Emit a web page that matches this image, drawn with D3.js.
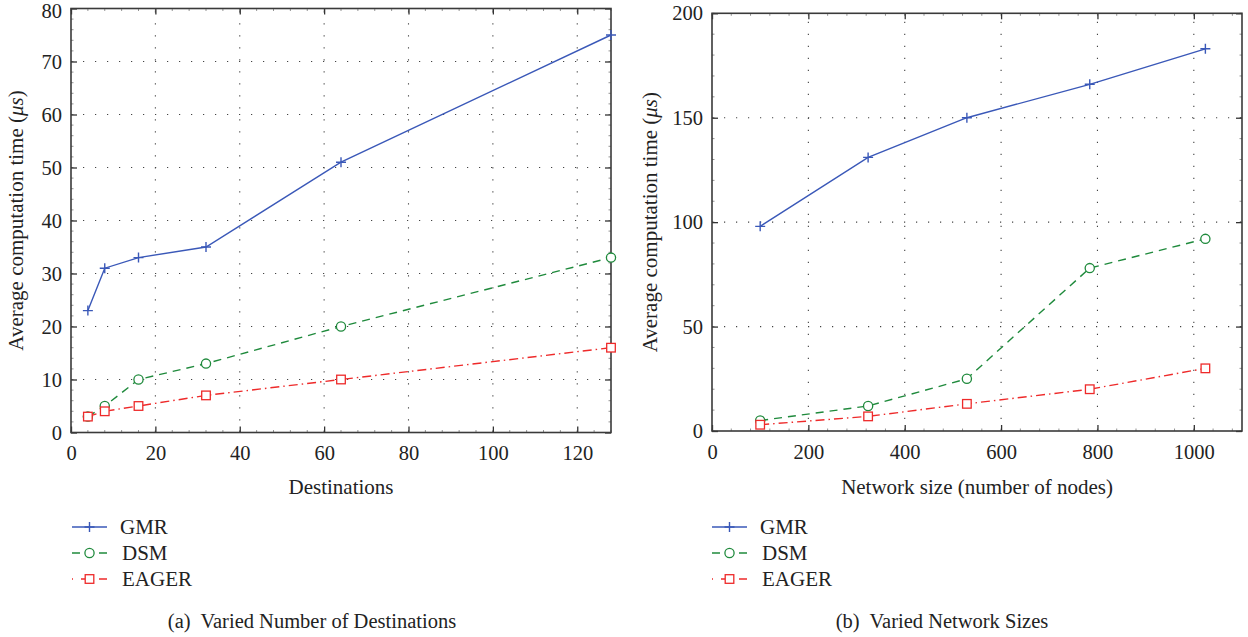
<!DOCTYPE html>
<html><head><meta charset="utf-8">
<script src="https://cdn.jsdelivr.net/npm/d3@7"></script>
<style>
body{margin:0;background:#fff;}
svg{display:block;}
text{font-family:"Liberation Serif","DejaVu Serif",serif;fill:#222;white-space:pre;}
</style></head>
<body><svg id="c" width="1248" height="637"></svg>
<script>
// ---- Data ----
const destX = [4, 8, 16, 32, 64, 128];
const destGMR = [23, 31, 33, 35, 51, 75];
const destDSM = [3, 5, 10, 13, 20, 33];
const destEAGER = [3, 4, 5, 7, 10, 16];

const netX = [100, 324, 529, 784, 1024];
const netGMR = [98, 131, 150, 166, 183];
const netDSM = [5, 12, 25, 78, 92];
const netEAGER = [3, 7, 13, 20, 30];

const seriesNames = ["GMR", "DSM", "EAGER"];
const destXTicks = [0, 20, 40, 60, 80, 100, 120];
const destYTicks = [0, 10, 20, 30, 40, 50, 60, 70, 80];
const netXTicks = [0, 200, 400, 600, 800, 1000];
const netYTicks = [0, 50, 100, 150, 200];

const yLabel = "Average computation time (";
const captions = ["(a)  Varied Number of Destinations", "(b)  Varied Network Sizes"];
const xLabels = ["Destinations", "Network size (number of nodes)"];

// ---- Styles ----
const styles = {
  GMR: {color: "#3a58b8", dash: null, marker: "plus"},
  DSM: {color: "#1f8a3c", dash: "8,6", marker: "circle"},
  EAGER: {color: "#ee2a2a", dash: "9,4,1.5,4", marker: "square"}
};

const svg = d3.select("#c");

function drawMarker(g, type, x, y, color) {
  if (type === "plus") {
    g.append("path").attr("d", `M${x-5},${y}H${x+5}M${x},${y-5}V${y+5}`)
      .attr("stroke", color).attr("stroke-width", 1.4).attr("fill", "none");
  } else if (type === "circle") {
    g.append("circle").attr("cx", x).attr("cy", y).attr("r", 4.6)
      .attr("stroke", color).attr("stroke-width", 1.3).attr("fill", "#fff");
  } else {
    g.append("rect").attr("x", x-4.3).attr("y", y-4.3).attr("width", 8.6).attr("height", 8.6)
      .attr("stroke", color).attr("stroke-width", 1.3).attr("fill", "#fff");
  }
}

function panel(opts) {
  const {left, right, top, bottom, xDomain, yDomain, xTicks, yTicks, xMinor, yMinor,
         xs, series, xLabel, yLabelX, caption, captionX, legendX} = opts;
  const x = d3.scaleLinear().domain(xDomain).range([left, right]);
  const y = d3.scaleLinear().domain(yDomain).range([bottom, top]);
  const g = svg.append("g");

  // grid
  const grid = g.append("g").attr("stroke", "#444").attr("stroke-width", 1.1)
    .attr("stroke-dasharray", "1.2,10.8");
  xTicks.forEach(t => { if (t > xDomain[0] && t < xDomain[1])
    grid.append("line").attr("x1", x(t)).attr("x2", x(t)).attr("y1", bottom).attr("y2", top); });
  yTicks.forEach(t => { if (t > yDomain[0] && t < yDomain[1])
    grid.append("line").attr("y1", y(t)).attr("y2", y(t)).attr("x1", left).attr("x2", right); });

  // minor ticks
  const mt = g.append("g").attr("stroke", "#666").attr("stroke-width", 0.7);
  d3.range(xDomain[0], xDomain[1] + 1e-9, xMinor).forEach(t => {
    mt.append("line").attr("x1", x(t)).attr("x2", x(t)).attr("y1", bottom).attr("y2", bottom - 2.5);
    mt.append("line").attr("x1", x(t)).attr("x2", x(t)).attr("y1", top).attr("y2", top + 2.5);
  });
  d3.range(yDomain[0], yDomain[1] + 1e-9, yMinor).forEach(t => {
    mt.append("line").attr("y1", y(t)).attr("y2", y(t)).attr("x1", left).attr("x2", left + 2.5);
    mt.append("line").attr("y1", y(t)).attr("y2", y(t)).attr("x1", right).attr("x2", right - 2.5);
  });

  // axes via d3
  const fmt = d3.format("d");
  const xAxis = d3.axisBottom(x).tickValues(xTicks).tickFormat(fmt).tickSizeInner(-6).tickSizeOuter(0).tickPadding(13);
  const xAxisTop = d3.axisTop(x).tickValues(xTicks).tickSizeInner(-6).tickSizeOuter(0).tickFormat("");
  const yAxis = d3.axisLeft(y).tickValues(yTicks).tickFormat(fmt).tickSizeInner(-6).tickSizeOuter(0).tickPadding(9);
  const yAxisR = d3.axisRight(y).tickValues(yTicks).tickSizeInner(-6).tickSizeOuter(0).tickFormat("");
  const axisGroups = [ [xAxis, `translate(0,${bottom})`], [xAxisTop, `translate(0,${top})`],
    [yAxis, `translate(${left},0)`], [yAxisR, `translate(${right},0)`] ].map(([ax, tr]) => {
    const a = g.append("g").attr("transform", tr).call(ax);
    a.select(".domain").remove();
    a.selectAll(".tick line").attr("stroke", "#333").attr("stroke-width", 1.3);
    a.selectAll("text").attr("font-size", 20.5).attr("font-family", "Liberation Serif").attr("fill", "#222");
    return a;
  });
  // keep the top y label inside the picture
  axisGroups[2].selectAll(".tick text").filter(d => d === yDomain[1] && y(d) < 10)
    .attr("dy", "0.42em");
  // frame
  g.append("rect").attr("x", left).attr("y", top).attr("width", right - left).attr("height", bottom - top)
    .attr("fill", "none").attr("stroke", "#3a3a3a").attr("stroke-width", 1.6);

  // series
  series.forEach(s => {
    const st = styles[s.name];
    const line = d3.line().x((d, i) => x(xs[i])).y(d => y(d));
    g.append("path").datum(s.values).attr("d", line).attr("fill", "none")
      .attr("stroke", st.color).attr("stroke-width", 1.4)
      .attr("stroke-dasharray", st.dash);
    s.values.forEach((v, i) => drawMarker(g, st.marker, x(xs[i]), y(v), st.color));
  });

  // labels
  g.append("text").attr("x", (left + right) / 2).attr("y", 494).attr("text-anchor", "middle")
    .attr("font-size", 21).text(xLabel);
  const yl = g.append("text").attr("transform", `translate(${yLabelX},${(top + bottom) / 2}) rotate(-90)`)
    .attr("text-anchor", "middle").attr("font-size", 21);
  yl.append("tspan").text(yLabel);
  yl.append("tspan").attr("font-style", "italic").text("μs");
  yl.append("tspan").text(")");

  // legend
  series.forEach((s, i) => {
    const st = styles[s.name];
    const ly = 527 + i * 26;
    g.append("line").attr("x1", legendX).attr("x2", legendX + 35).attr("y1", ly).attr("y2", ly)
      .attr("stroke", st.color).attr("stroke-width", 1.4)
      .attr("stroke-dasharray", st.dash ? (s.name === "DSM" ? "8,19,8" : "1,8,10,8,8") : null);
    drawMarker(g, st.marker, legendX + 17.5, ly, st.color);
    g.append("text").attr("x", legendX + 48 + (i > 0 ? 2 : 0)).attr("y", ly + 7)
      .attr("font-size", 21).text(s.name);
  });

  // caption
  g.append("text").attr("x", captionX).attr("y", 628).attr("text-anchor", "middle")
    .attr("font-size", 20.5).text(caption);
}

panel({
  left: 71, right: 611, top: 8.5, bottom: 432.5,
  xDomain: [0, 128], yDomain: [0, 80],
  xTicks: destXTicks, yTicks: destYTicks, xMinor: 4, yMinor: 2,
  xs: destX,
  series: [{name: "GMR", values: destGMR}, {name: "DSM", values: destDSM}, {name: "EAGER", values: destEAGER}],
  xLabel: xLabels[0], yLabelX: 23, caption: captions[0], captionX: 312, legendX: 72
});
panel({
  left: 712, right: 1242, top: 13.3, bottom: 431,
  xDomain: [0, 1100], yDomain: [0, 200],
  xTicks: netXTicks, yTicks: netYTicks, xMinor: 40, yMinor: 10,
  xs: netX,
  series: [{name: "GMR", values: netGMR}, {name: "DSM", values: netDSM}, {name: "EAGER", values: netEAGER}],
  xLabel: xLabels[1], yLabelX: 657, caption: captions[1], captionX: 942, legendX: 712
});
</script></body></html>
